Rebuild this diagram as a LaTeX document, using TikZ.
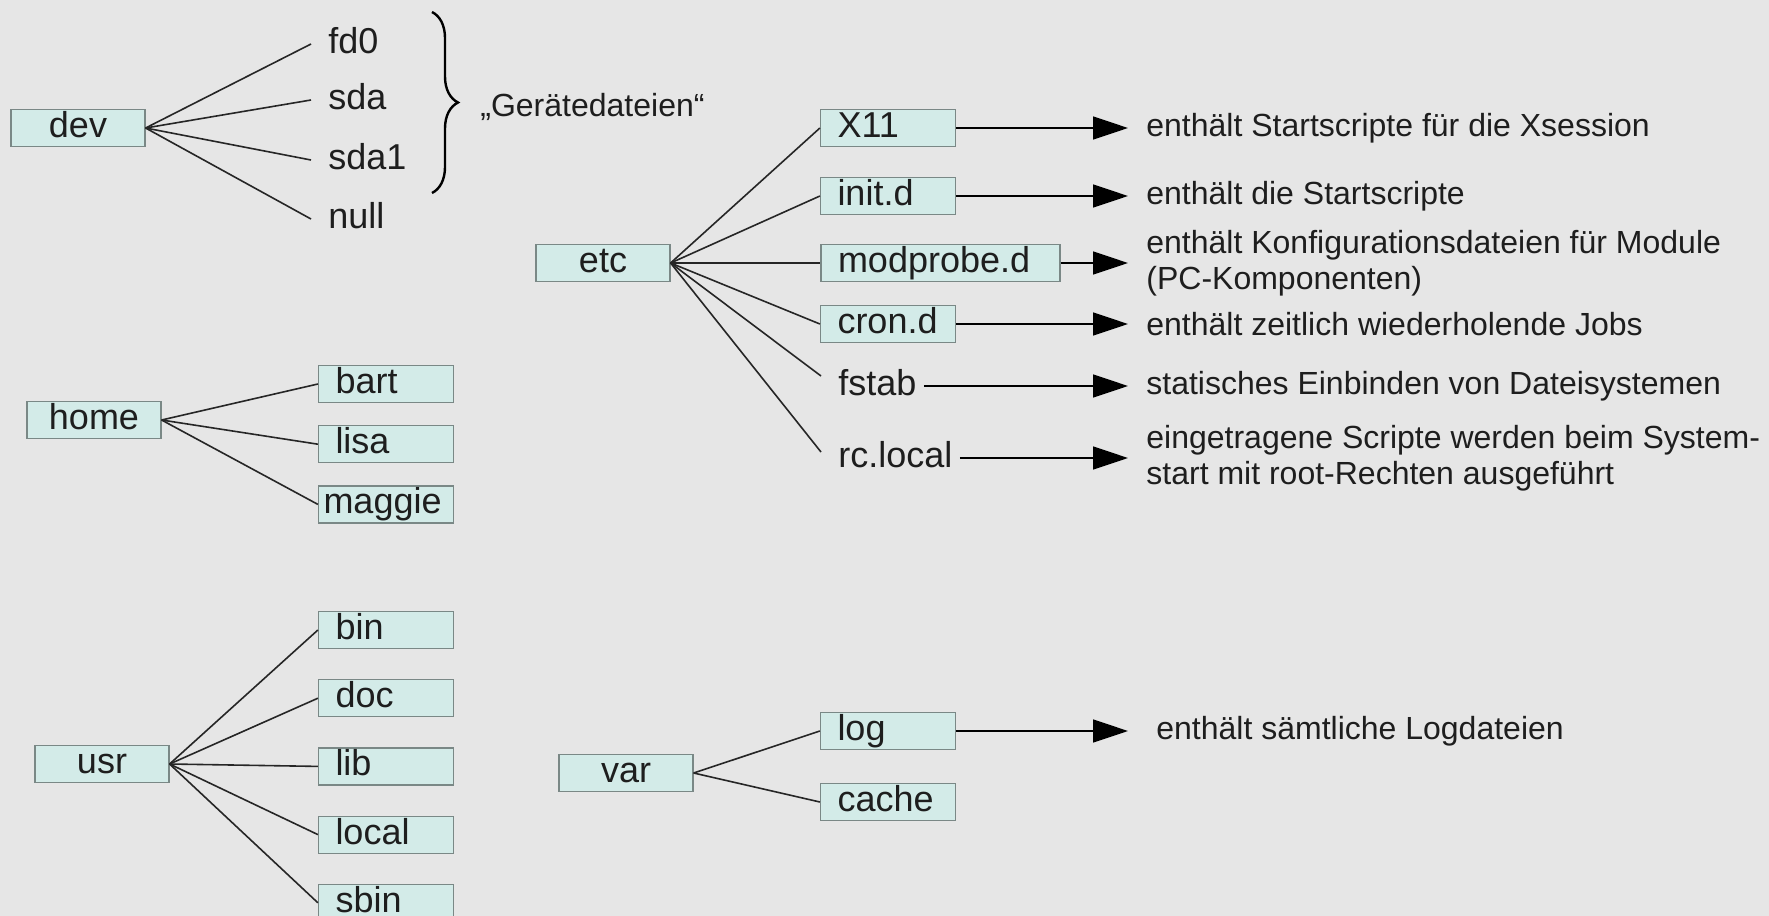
\documentclass[tikz,border=0pt]{standalone}
\usepackage{fontspec}
\setmainfont{Liberation Sans}
\usepackage{tikz}
\usetikzlibrary{arrows.meta, positioning, decorations.pathreplacing}
\definecolor{bggray}{HTML}{E6E6E6}
\definecolor{boxfill}{HTML}{D3EBE8}
\definecolor{boxline}{HTML}{7A8886}
\definecolor{inktext}{HTML}{1E1E1E}
\tikzset{
  dirbox/.style={rectangle, draw=boxline, fill=boxfill, line width=0.6pt, minimum width=67pt, text height=13.5pt, text depth=4pt, inner ysep=0.5pt, text centered, text=inktext, font=\fontsize{18}{21}\selectfont},
  subbox/.style={rectangle, draw=boxline, fill=boxfill, line width=0.6pt, text width=50.5pt, inner xsep=8.5pt, text height=13.5pt, text depth=4pt, inner ysep=0.5pt, align=left, text=inktext, font=\fontsize{18}{21}\selectfont},
  leaf/.style={anchor=west, inner xsep=8.5pt, text height=13.5pt, text depth=4pt, inner ysep=0.5pt, text=inktext, font=\fontsize{18}{21}\selectfont},
  desc/.style={anchor=west, inner xsep=9pt, inner ysep=0pt, align=left, text=inktext, font=\fontsize{16}{18}\selectfont},
  link/.style={draw=black!85, line width=0.8pt},
  arrow/.style={draw=black, line width=0.8pt, -{Triangle[length=17.5pt, width=11.5pt]}},
  bracket/.style={draw=black, line width=1.2pt, decorate, decoration={brace, amplitude=13pt}}
}

\begin{document}
\begin{tikzpicture}[x=0.5pt, y=-0.5pt]

\useasboundingbox (0,0) rectangle (1769,916);
\fill[bggray] (0,0) rectangle (1769,916);

% dev
\node (dev) [dirbox] at (78,128) {dev};
\node (fd0) [leaf] at (311,44) {fd0};
\node (sda) [leaf] at (311,100) {sda};
\node (sdaone) [leaf] at (311,160) {sda1};
\node (null) [leaf] at (311,219) {null};
\coordinate (btop) at (432,12);
\coordinate (bbot) at (432,193);
\node (geraete) [desc] at (462,107) {„Gerätedateien“};

\draw [link] (dev.east) -- (fd0.west);
\draw [link] (dev.east) -- (sda.west);
\draw [link] (dev.east) -- (sdaone.west);
\draw [link] (dev.east) -- (null.west);
\draw [bracket] (btop) -- (bbot);

% home
\node (home) [dirbox] at (94,420) {home};
\node (bart) [subbox] at (386,384) {bart};
\node (lisa) [subbox, below=11pt of bart] {lisa};
\node (maggie) [subbox, below=11pt of lisa, inner xsep=2.5pt, text width=62.5pt] {maggie};

\draw [link] (home.east) -- (bart.west);
\draw [link] (home.east) -- (lisa.west);
\draw [link] (home.east) -- (maggie.west);

% usr
\node (usr) [dirbox] at (102,764) {usr};
\node (bin) [subbox] at (386,630) {bin};
\node (doc) [subbox, below=15pt of bin] {doc};
\node (lib) [subbox, below=15pt of doc] {lib};
\node (local) [subbox, below=15pt of lib] {local};
\node (sbin) [subbox, below=15pt of local] {sbin};

\draw [link] (usr.east) -- (bin.west);
\draw [link] (usr.east) -- (doc.west);
\draw [link] (usr.east) -- (lib.west);
\draw [link] (usr.east) -- (local.west);
\draw [link] (usr.east) -- (sbin.west);

% etc
\node (etc) [dirbox] at (603,263) {etc};
\node (xelf) [subbox] at (888,128) {X11};
\node (initd) [subbox] at (888,196) {init.d};
\node (modprobe) [subbox, text width=102.5pt] at (940.5,263) {modprobe.d};
\node (crond) [subbox] at (888,324) {cron.d};
\node (fstab) [leaf] at (821,386) {fstab};
\node (rclocal) [leaf] at (821,458) {rc.local};

\draw [link] (etc.east) -- (xelf.west);
\draw [link] (etc.east) -- (initd.west);
\draw [link] (etc.east) -- (modprobe.west);
\draw [link] (etc.east) -- (crond.west);
\draw [link] (etc.east) -- ([yshift=5pt]fstab.west);
\draw [link] (etc.east) -- ([yshift=3pt]rclocal.west);

% Descriptions
\node (dxelf) [desc] at (1128,128) {enthält Startscripte für die Xsession};
\node (dinitd) [desc] at (1128,196) {enthält die Startscripte};
\node (dmodprobe) [desc] at (1128,263) {enthält Konfigurationsdateien für Module\\(PC-Komponenten)};
\node (dcrond) [desc] at (1128,324) {enthält zeitlich wiederholende Jobs};
\node (dfstab) [desc] at (1128,386) {statisches Einbinden von Dateisystemen};
\node (drclocal) [desc] at (1128,458) {eingetragene Scripte werden beim System-\\start mit root-Rechten ausgeführt};

\draw [arrow] (xelf) -- (xelf -| dxelf.west);
\draw [arrow] (initd) -- (initd -| dinitd.west);
\draw [arrow] (modprobe) -- (modprobe -| dmodprobe.west);
\draw [arrow] (crond) -- (crond -| dcrond.west);
\draw [arrow, shorten <=-5pt] (fstab) -- (fstab -| dfstab.west);
\draw [arrow, shorten <=-5pt] (rclocal) -- (rclocal -| drclocal.west);

% var
\node (var) [dirbox] at (626,773) {var};
\node (log) [subbox] at (888,731) {log};
\node (cache) [subbox] at (888,802) {cache};
\node (dlog) [desc, inner xsep=14pt] at (1128,731) {enthält sämtliche Logdateien};

\draw [link] (var.east) -- (log.west);
\draw [link] (var.east) -- (cache.west);
\draw [arrow] (log) -- (log -| dlog.west);

\end{tikzpicture}
\end{document}
